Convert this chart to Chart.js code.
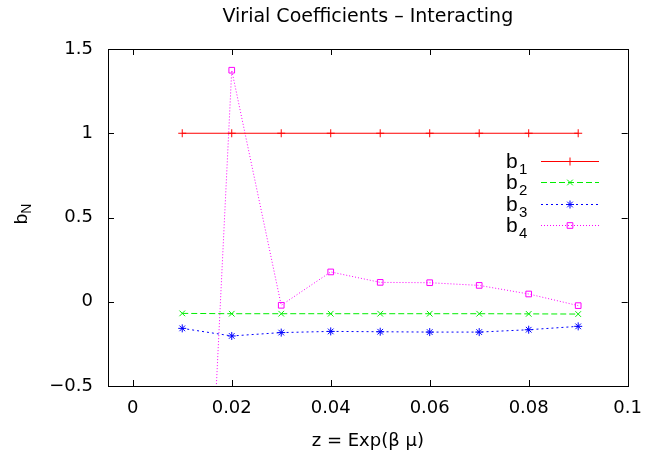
<!DOCTYPE html>
<html><head><meta charset="utf-8">
<script src="https://cdn.jsdelivr.net/npm/chart.js@4"></script>
<style>html,body{margin:0;padding:0;background:#fff}#w{width:654px;height:452px}</style>
</head><body><div id="w"><canvas id="c" width="654" height="452"></canvas></div>
<script>
const zValues = [0.01, 0.02, 0.03, 0.04, 0.05, 0.06, 0.07, 0.08, 0.09];
const b1 = [1, 1, 1, 1, 1, 1, 1, 1, 1];
const b2 = [-0.069, -0.071, -0.071, -0.071, -0.071, -0.071, -0.071, -0.072, -0.073];
const b3 = [-0.158, -0.203, -0.183, -0.176, -0.178, -0.180, -0.180, -0.166, -0.146];
const b4 = [-4.65, 1.374, -0.021, 0.177, 0.115, 0.113, 0.097, 0.046, -0.023];
const seriesNames = ['1', '2', '3', '4'];
const xTicks = [0, 0.02, 0.04, 0.06, 0.08, 0.1];
const yTicks = [-0.5, 0, 0.5, 1, 1.5];
const titleText = 'Virial Coefficients \u2013 Interacting';
const xTitle = 'z = Exp(\u03b2 \u03bc)';

const FONT = "'DejaVu Sans', sans-serif";
const LFONT = "'Liberation Sans', Arial, Helvetica, sans-serif";
const pts = ys => zValues.map((x, i) => ({x: x, y: ys[i]}));

const styles = [
  {color: '#ff0000', dash: [], point: 'cross'},
  {color: '#00ee00', dash: [6, 3], point: 'crossRot'},
  {color: '#0000ff', dash: [2, 3], point: 'star'},
  {color: '#ff00ff', dash: [1, 2], point: 'rect'}
];
const allSeries = [b1, b2, b3, b4];

const datasets = allSeries.map((s, i) => ({
  label: 'b' + seriesNames[i],
  data: pts(s),
  borderColor: styles[i].color,
  backgroundColor: 'rgba(0,0,0,0)',
  borderWidth: 1,
  borderDash: styles[i].dash,
  pointStyle: styles[i].point,
  pointRadius: 4,
  pointBorderWidth: 1,
  pointBorderColor: styles[i].color,
  pointBackgroundColor: 'rgba(0,0,0,0)',
  tension: 0,
  fill: false
}));

const frame = {
  id: 'frame',
  afterDraw(chart) {
    const ctx = chart.ctx, a = chart.chartArea;
    const xs = chart.scales.x, ys = chart.scales.y;
    ctx.save();
    ctx.strokeStyle = '#000';
    ctx.lineWidth = 1;
    ctx.setLineDash([]);
    ctx.strokeRect(Math.round(a.left) + 0.5, Math.round(a.top) + 0.5, Math.round(a.right - a.left), Math.round(a.bottom - a.top));
    const L = 6;
    ctx.beginPath();
    xTicks.forEach(v => {
      const px = Math.round(xs.getPixelForValue(v)) + 0.5;
      ctx.moveTo(px, a.bottom); ctx.lineTo(px, a.bottom - L);
      ctx.moveTo(px, a.top); ctx.lineTo(px, a.top + L);
    });
    yTicks.forEach(v => {
      const py = Math.round(ys.getPixelForValue(v)) + 0.5;
      ctx.moveTo(a.left, py); ctx.lineTo(a.left + L, py);
      ctx.moveTo(a.right, py); ctx.lineTo(a.right - L, py);
    });
    ctx.stroke();

    // chart title, centred over the plot area
    ctx.fillStyle = '#000';
    ctx.textAlign = 'center';
    ctx.textBaseline = 'middle';
    ctx.font = '19px ' + FONT;
    ctx.fillText(titleText, (a.left + a.right) / 2, 17);

    // y-axis title b_N (rotated)
    ctx.translate(27, 214);
    ctx.rotate(-Math.PI / 2);
    ctx.textBaseline = 'alphabetic';
    ctx.textAlign = 'left';
    ctx.font = '19px ' + LFONT;
    const wb = ctx.measureText('b').width;
    ctx.font = '14px ' + LFONT;
    const wn = ctx.measureText('N').width;
    const x0 = -(wb + wn) / 2;
    ctx.font = '19px ' + LFONT;
    ctx.fillText('b', x0, 0);
    ctx.font = '14px ' + LFONT;
    ctx.fillText('N', x0 + wb, 4);
    ctx.restore();

    // legend
    ctx.save();
    const rowY = [160.5, 182, 203.5, 225];
    chart.data.datasets.forEach((ds, i) => {
      const y = rowY[i];
      ctx.fillStyle = '#000';
      ctx.textBaseline = 'alphabetic';
      ctx.textAlign = 'left';
      ctx.font = '21px ' + LFONT;
      ctx.fillText('b', 506, y + 7);
      ctx.font = '15px ' + LFONT;
      ctx.fillText(seriesNames[i], 519, y + 13);
      ctx.strokeStyle = ds.borderColor;
      ctx.fillStyle = 'rgba(0,0,0,0)';
      ctx.lineWidth = 1;
      ctx.setLineDash(ds.borderDash);
      ctx.beginPath();
      ctx.moveTo(541, Math.round(y) + 0.5);
      ctx.lineTo(599, Math.round(y) + 0.5);
      ctx.stroke();
      ctx.setLineDash([]);
      Chart.helpers.drawPoint(ctx, {pointStyle: ds.pointStyle, radius: 4, borderWidth: 1, rotation: 0}, 570, Math.round(y) + 0.5);
    });
    ctx.restore();
  }
};

new Chart(document.getElementById('c'), {
  type: 'line',
  data: {datasets: datasets},
  plugins: [frame],
  options: {
    responsive: false,
    animation: false,
    devicePixelRatio: 1,
    layout: {padding: {left: 0, right: 17, top: 49, bottom: 0}},
    plugins: {
      legend: {display: false},
      tooltip: {enabled: false},
      title: {display: false}
    },
    scales: {
      x: {
        type: 'linear', min: -0.005, max: 0.1,
        afterBuildTicks: s => { s.ticks = xTicks.map(v => ({value: v})); },
        afterFit: s => { s.height = 66; },
        grid: {display: false, drawTicks: false},
        border: {display: false},
        ticks: {
          color: '#000', padding: 12, maxRotation: 0,
          font: {family: FONT, size: 18},
          callback: v => String(Math.round(v * 100) / 100)
        },
        title: {
          display: true, text: xTitle, color: '#000',
          font: {family: FONT, size: 18}, padding: {top: 3, bottom: 0}
        }
      },
      y: {
        type: 'linear', min: -0.5, max: 1.5,
        afterBuildTicks: s => { s.ticks = yTicks.map(v => ({value: v})); },
        afterFit: s => { s.width = 108; },
        grid: {display: false, drawTicks: false},
        border: {display: false},
        ticks: {
          color: '#000', padding: 15,
          font: {family: FONT, size: 18},
          callback: v => String(v).replace('-', '\u2212')
        }
      }
    }
  }
});
</script>
</body></html>
